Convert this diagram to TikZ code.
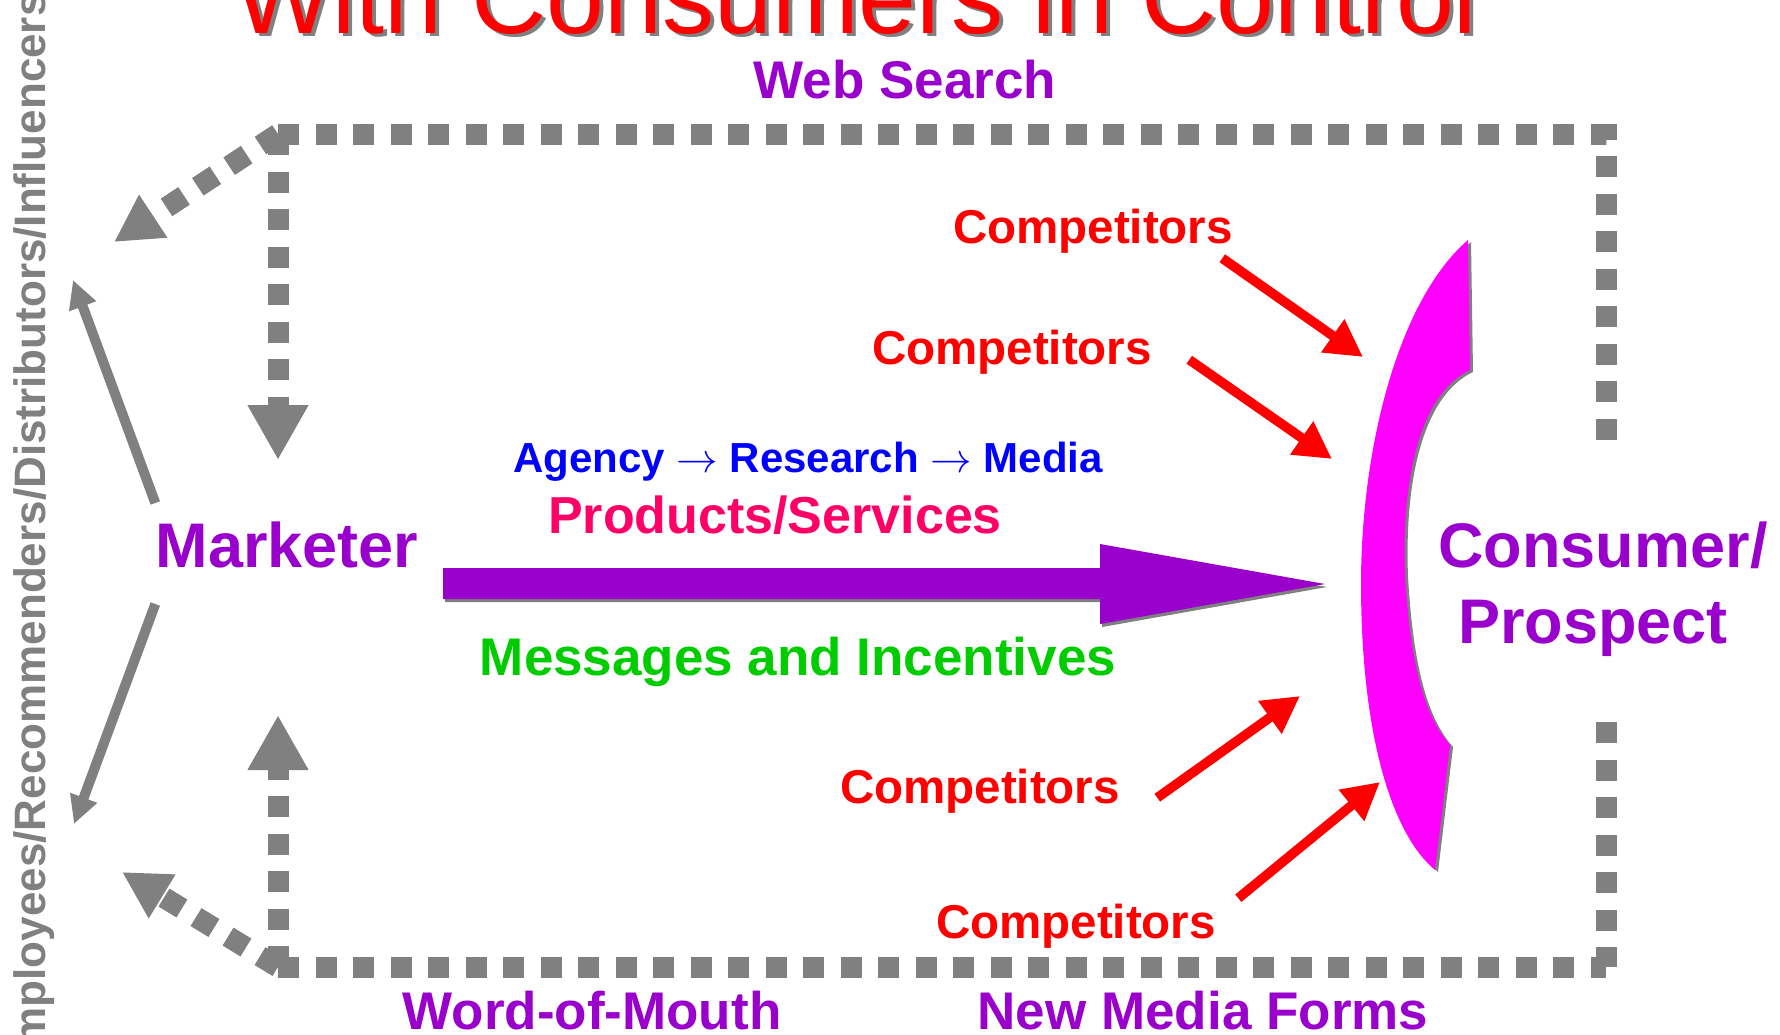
\documentclass[tikz,border=0pt]{standalone}
\usepackage{fontspec}
\setmainfont{Liberation Sans}
\usetikzlibrary{arrows.meta}
\usepackage{xcolor}
\definecolor{purp}{HTML}{9900CC}
\definecolor{prodpink}{HTML}{FF0066}
\definecolor{msggreen}{HTML}{00CC00}
\definecolor{dotgray}{HTML}{808080}
\definecolor{crescent}{HTML}{FF00FF}

\begin{document}
\begin{tikzpicture}[
        x = 0.5pt, y = -0.5pt, % pixel grid, y going down
        > = {Triangle[length=14pt, width=13.5pt]}, % arrow head style
        txt/.style = {inner sep=0pt, anchor=base, font=\bfseries\fontsize{26.5}{30}\selectfont},
        comp/.style = {txt, text=red, font=\bfseries\fontsize{23.75}{28}\selectfont},
        big/.style = {txt, font=\bfseries\fontsize{31.5}{38}\selectfont, text=purp},
        dotline/.style = {draw=dotgray, line width=10.5pt, dash pattern=on 10.5pt off 8.25pt},
        dothead/.style = {-{Triangle[length=27.5pt, width=28.5pt]}},
        diaghead/.style = {-{Triangle[length=23.5pt, width=24pt]}},
        solidgray/.style = {draw=dotgray, line width=5pt, ->},
        comparrow/.style = {draw=red, line width=4.8pt, -{Triangle[length=18.5pt, width=19pt]}}
      ]

      \useasboundingbox (0,0) rectangle (1780,1034);
      \clip (0,0) rectangle (1780,1034);

      % title, cut by the top edge
      \node[txt, text=dotgray, font=\fontsize{52}{60}\selectfont] (titleshadow) at (860,36) {With Consumers in Control};
      \node[txt, text=red, font=\fontsize{52}{60}\selectfont] (title) at (856,33) {With Consumers in Control};

      \node[txt, text=purp] (web) at (905,98) {Web Search};
      \node[big] (mkt) at (287,567) {Marketer};
      \node[big] (cons) at (1603,567) {Consumer/};
      \node[big] (prosp) at (1593,643) {Prospect};
      \node[txt, text=blue, font=\bfseries\fontsize{21}{25}\selectfont] (agency) at (808,472)
        {Agency $\rightarrow$ Research $\rightarrow$ Media};
      \node[txt, text=prodpink, font=\bfseries\fontsize{26}{30}\selectfont] (prod) at (775,533) {Products/Services};
      \node[txt, text=msggreen] (msg) at (798,675) {Messages and Incentives};
      \node[comp] (c1) at (1093,243) {Competitors};
      \node[comp] (c2) at (1012,364) {Competitors};
      \node[comp] (c3) at (980,803) {Competitors};
      \node[comp] (c4) at (1076,938) {Competitors};
      \node[txt, text=purp] (wom) at (592,1029) {Word-of-Mouth};
      \node[txt, text=purp] (nmf) at (1203,1029) {New Media Forms};
      \node[txt, text=dotgray, rotate=90, font=\bfseries\fontsize{22}{26}\selectfont] (infl) at (45,534)
        {Employees/Recommenders/Distributors/Influencers};

      \coordinate (tl) at (278,134);
      \coordinate (tr) at (1606,134);
      \coordinate (bl) at (278,967);
      \coordinate (br) at (1606,967);
      \coordinate (rtop) at (1606,443);
      \coordinate (rbot) at (1606,722);
      \coordinate (downtip) at (278,460);
      \coordinate (uptip) at (278,715);
      \coordinate (ultip) at (114,242);
      \coordinate (lltip) at (122,872);
      \coordinate (influp) at (73,280);
      \coordinate (infldn) at (74,824);
      \coordinate (hit1) at (1363,357);
      \coordinate (hit2) at (1332,459);
      \coordinate (hit3) at (1300,696);
      \coordinate (hit4) at (1380,782);
      \coordinate (bigtail) at (443,583.5);
      \coordinate (bigtip) at (1325,584);

      % dotted loop
      \draw[dotline] (tl) -- (tr) -- (rtop);
      \draw[dotline, dothead] (tl) -- (downtip);
      \draw[dotline, diaghead] (tl) -- (ultip);
      \draw[dotline] (bl) -- (br);
      \draw[dotline] (rbot) -- (br);
      \draw[dotline, dothead] (bl) -- (uptip);
      \draw[dotline, diaghead] (bl) -- (lltip);

      \draw[solidgray] ([yshift=9pt]mkt.north west) -- (influp);
      \draw[solidgray] ([yshift=-18pt]mkt.south west) -- (infldn);

      % big arrow with its shadow
      \fill[dotgray] ([xshift=1pt, yshift=-1.5pt]bigtail) ++(0,-15.5) -- ++(657,0) -- ++(0,-24)
        -- ([xshift=1pt, yshift=-1.5pt]bigtip) -- ++(-225,40) -- ++(0,-25) -- ++(-657,0) -- cycle;
      \fill[purp] (bigtail) ++(0,-15.5) -- ++(657,0) -- ++(0,-24)
        -- (bigtip) -- ++(-225,40) -- ++(0,-25) -- ++(-657,0) -- cycle;

      % crescent with its shadow
      \fill[dotgray, shift={(3,2)}] (1468,240) -- (1470,370)
        .. controls (1423,392) and (1401,470) .. (1405,575)
        .. controls (1410,660) and (1423,715) .. (1450,745) -- (1435,870)
        .. controls (1393,835) and (1362,740) .. (1361,590)
        .. controls (1360,450) and (1398,300) .. (1468,240) -- cycle;
      \fill[crescent] (1468,240) -- (1470,370)
        .. controls (1423,392) and (1401,470) .. (1405,575)
        .. controls (1410,660) and (1423,715) .. (1450,745) -- (1435,870)
        .. controls (1393,835) and (1362,740) .. (1361,590)
        .. controls (1360,450) and (1398,300) .. (1468,240) -- cycle;

      \draw[comparrow] ([xshift=-5.5pt, yshift=-2.5pt]c1.south east) -- (hit1);
      \draw[comparrow] ([xshift=18.5pt, yshift=-4pt]c2.east) -- (hit2);
      \draw[comparrow] ([xshift=18.5pt, yshift=-3.5pt]c3.east) -- (hit3);
      \draw[comparrow] ([xshift=11pt, yshift=2.5pt]c4.north east) -- (hit4);
  \end{tikzpicture}
\end{document}
